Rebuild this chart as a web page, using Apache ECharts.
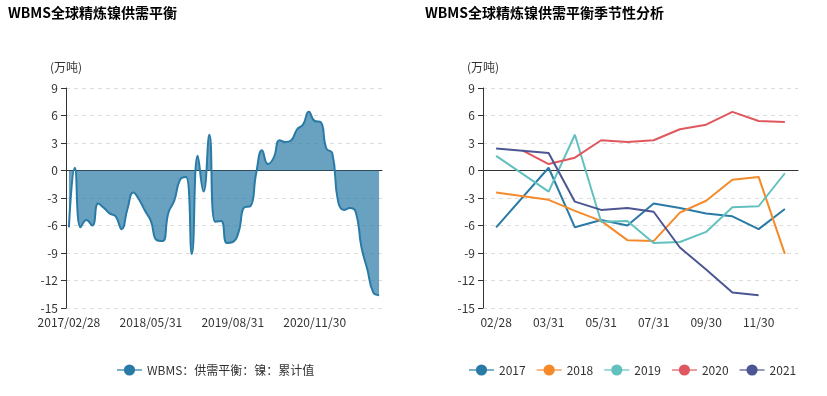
<!DOCTYPE html>
<html>
<head>
<meta charset="utf-8">
<script src="https://cdn.jsdelivr.net/npm/echarts@6/dist/echarts.min.js"></script>
<style>
  html, body { margin: 0; padding: 0; background: #fff; }
  #main { width: 827px; height: 396px; }
</style>
</head>
<body>
<div id="main"></div>
<script>
// 月末日期（每年 2 月至 12 月，WBMS 无 1 月数据）
const monthEnds = ["02/28", "03/31", "04/30", "05/31", "06/30", "07/31", "08/31", "09/30", "10/31", "11/30", "12/31"];
// 季节性图的横轴（2020 年 2 月为 02/29）
const seasonDays = ["02/28", "02/29", "03/31", "04/30", "05/31", "06/30", "07/31", "08/31", "09/30", "10/31", "11/30", "12/31"];
const years = ["2017", "2018", "2019", "2020", "2021"];

// 供需平衡累计值（万吨），每年 2 月起
const v2017 = [-6.2, 0.3, -6.2, -5.4, -6.0, -3.6, -4.1, -4.7, -5.0, -6.4, -4.2];
const v2018 = [-2.4, -3.2, -4.4, -5.5, -7.6, -7.7, -4.6, -3.3, -1.0, -0.7, -9.1];
const v2019 = [1.6, -2.3, 3.9, -5.6, -5.5, -7.9, -7.8, -6.7, -4.0, -3.9, -0.3];
const v2020 = [2.2, 0.7, 1.4, 3.3, 3.1, 3.3, 4.5, 5.0, 6.4, 5.4, 5.3];
const v2021 = [2.4, 1.9, -3.4, -4.3, -4.1, -4.5, -8.4, -10.8, -13.3, -13.6];
const yearValues = [v2017, v2018, v2019, v2020, v2021];

const leftName = "WBMS：供需平衡：镍：累计值";
const colors = ["#2a7aa6", "#f58a2b", "#62c1bf", "#e0585f", "#4c5692"];

// 左图：连续月份
const leftDates = [];
const leftValues = [];
yearValues.forEach((vals, k) => {
  vals.forEach((v, i) => {
    let day = monthEnds[i];
    if (years[k] === "2020" && i === 0) day = "02/29";
    leftDates.push(years[k] + "/" + day);
    leftValues.push(v);
  });
});

// 右图：按季节对齐
function seasonData(year, vals) {
  const out = new Array(seasonDays.length).fill(null);
  vals.forEach((v, i) => {
    let day = monthEnds[i];
    if (year === "2020" && i === 0) day = "02/29";
    out[seasonDays.indexOf(day)] = v;
  });
  return out;
}

const labelStyle = { color: "#333", fontSize: 12, fontFamily: "Noto Sans CJK SC" };

function yAxis(gridIndex) {
  return {
    gridIndex,
    type: "value",
    min: -15,
    max: 9,
    interval: 3,
    name: "(万吨)",
    nameTextStyle: labelStyle,
    axisLine: { show: true, lineStyle: { color: "#333" } },
    axisTick: { show: true, lineStyle: { color: "#333" } },
    axisLabel: labelStyle,
    splitLine: { lineStyle: { color: "#ddd", type: [4, 4] } },
  };
}

function xAxes(gridIndex, data, interval) {
  return [
    {
      gridIndex,
      type: "category",
      data,
      position: "bottom",
      axisLine: { onZero: true, lineStyle: { color: "#333" } },
      axisTick: { interval, lineStyle: { color: "#333" } },
      axisLabel: { show: false, interval },
    },
    {
      gridIndex,
      type: "category",
      data,
      position: "bottom",
      axisLine: { show: false, onZero: false },
      axisTick: { show: false },
      axisLabel: Object.assign({ interval, margin: 8 }, labelStyle),
    },
  ];
}

const chart = echarts.init(document.getElementById("main"));

const series = [
  {
    name: leftName,
    type: "line",
    xAxisIndex: 0,
    yAxisIndex: 0,
    data: leftValues,
    smooth: true,
    symbol: "circle",
    symbolSize: 6,
    showSymbol: false,
    itemStyle: { color: colors[0] },
    lineStyle: { width: 2, color: colors[0] },
    areaStyle: { color: colors[0], opacity: 0.7 },
  },
];
years.forEach((y, k) => {
  series.push({
    name: y,
    type: "line",
    xAxisIndex: 2,
    yAxisIndex: 1,
    data: seasonData(y, yearValues[k]),
    connectNulls: true,
    symbol: "circle",
    symbolSize: 6,
    showSymbol: false,
    itemStyle: { color: colors[k] },
    lineStyle: { width: 2, color: colors[k] },
  });
});

chart.setOption({
  animation: false,
  textStyle: { fontFamily: "Noto Sans CJK SC" },
  title: [
    {
      text: "WBMS全球精炼镍供需平衡",
      left: 8,
      top: 6,
      padding: 0,
      textStyle: { fontSize: 14, fontWeight: "bold", color: "#000", fontFamily: "Noto Sans CJK SC" },
    },
    {
      text: "WBMS全球精炼镍供需平衡季节性分析",
      left: 425,
      top: 6,
      padding: 0,
      textStyle: { fontSize: 14, fontWeight: "bold", color: "#000", fontFamily: "Noto Sans CJK SC" },
    },
  ],
  legend: [
    {
      data: [leftName],
      left: 111,
      top: 359,
      itemWidth: 25,
      itemHeight: 14,
      textStyle: labelStyle,
      lineStyle: { opacity: 0.6 },
    },
    {
      data: years,
      left: 463,
      top: 359,
      itemWidth: 25,
      itemHeight: 14,
      itemGap: 10,
      textStyle: labelStyle,
      lineStyle: { opacity: 0.6 },
    },
  ],
  grid: [
    { left: 66, top: 88, width: 316, height: 220, containLabel: false },
    { left: 483, top: 88, width: 315, height: 220, containLabel: false },
  ],
  xAxis: [...xAxes(0, leftDates, 13), ...xAxes(1, seasonDays, 1)],
  yAxis: [yAxis(0), yAxis(1)],
  series,
});
</script>
</body>
</html>
